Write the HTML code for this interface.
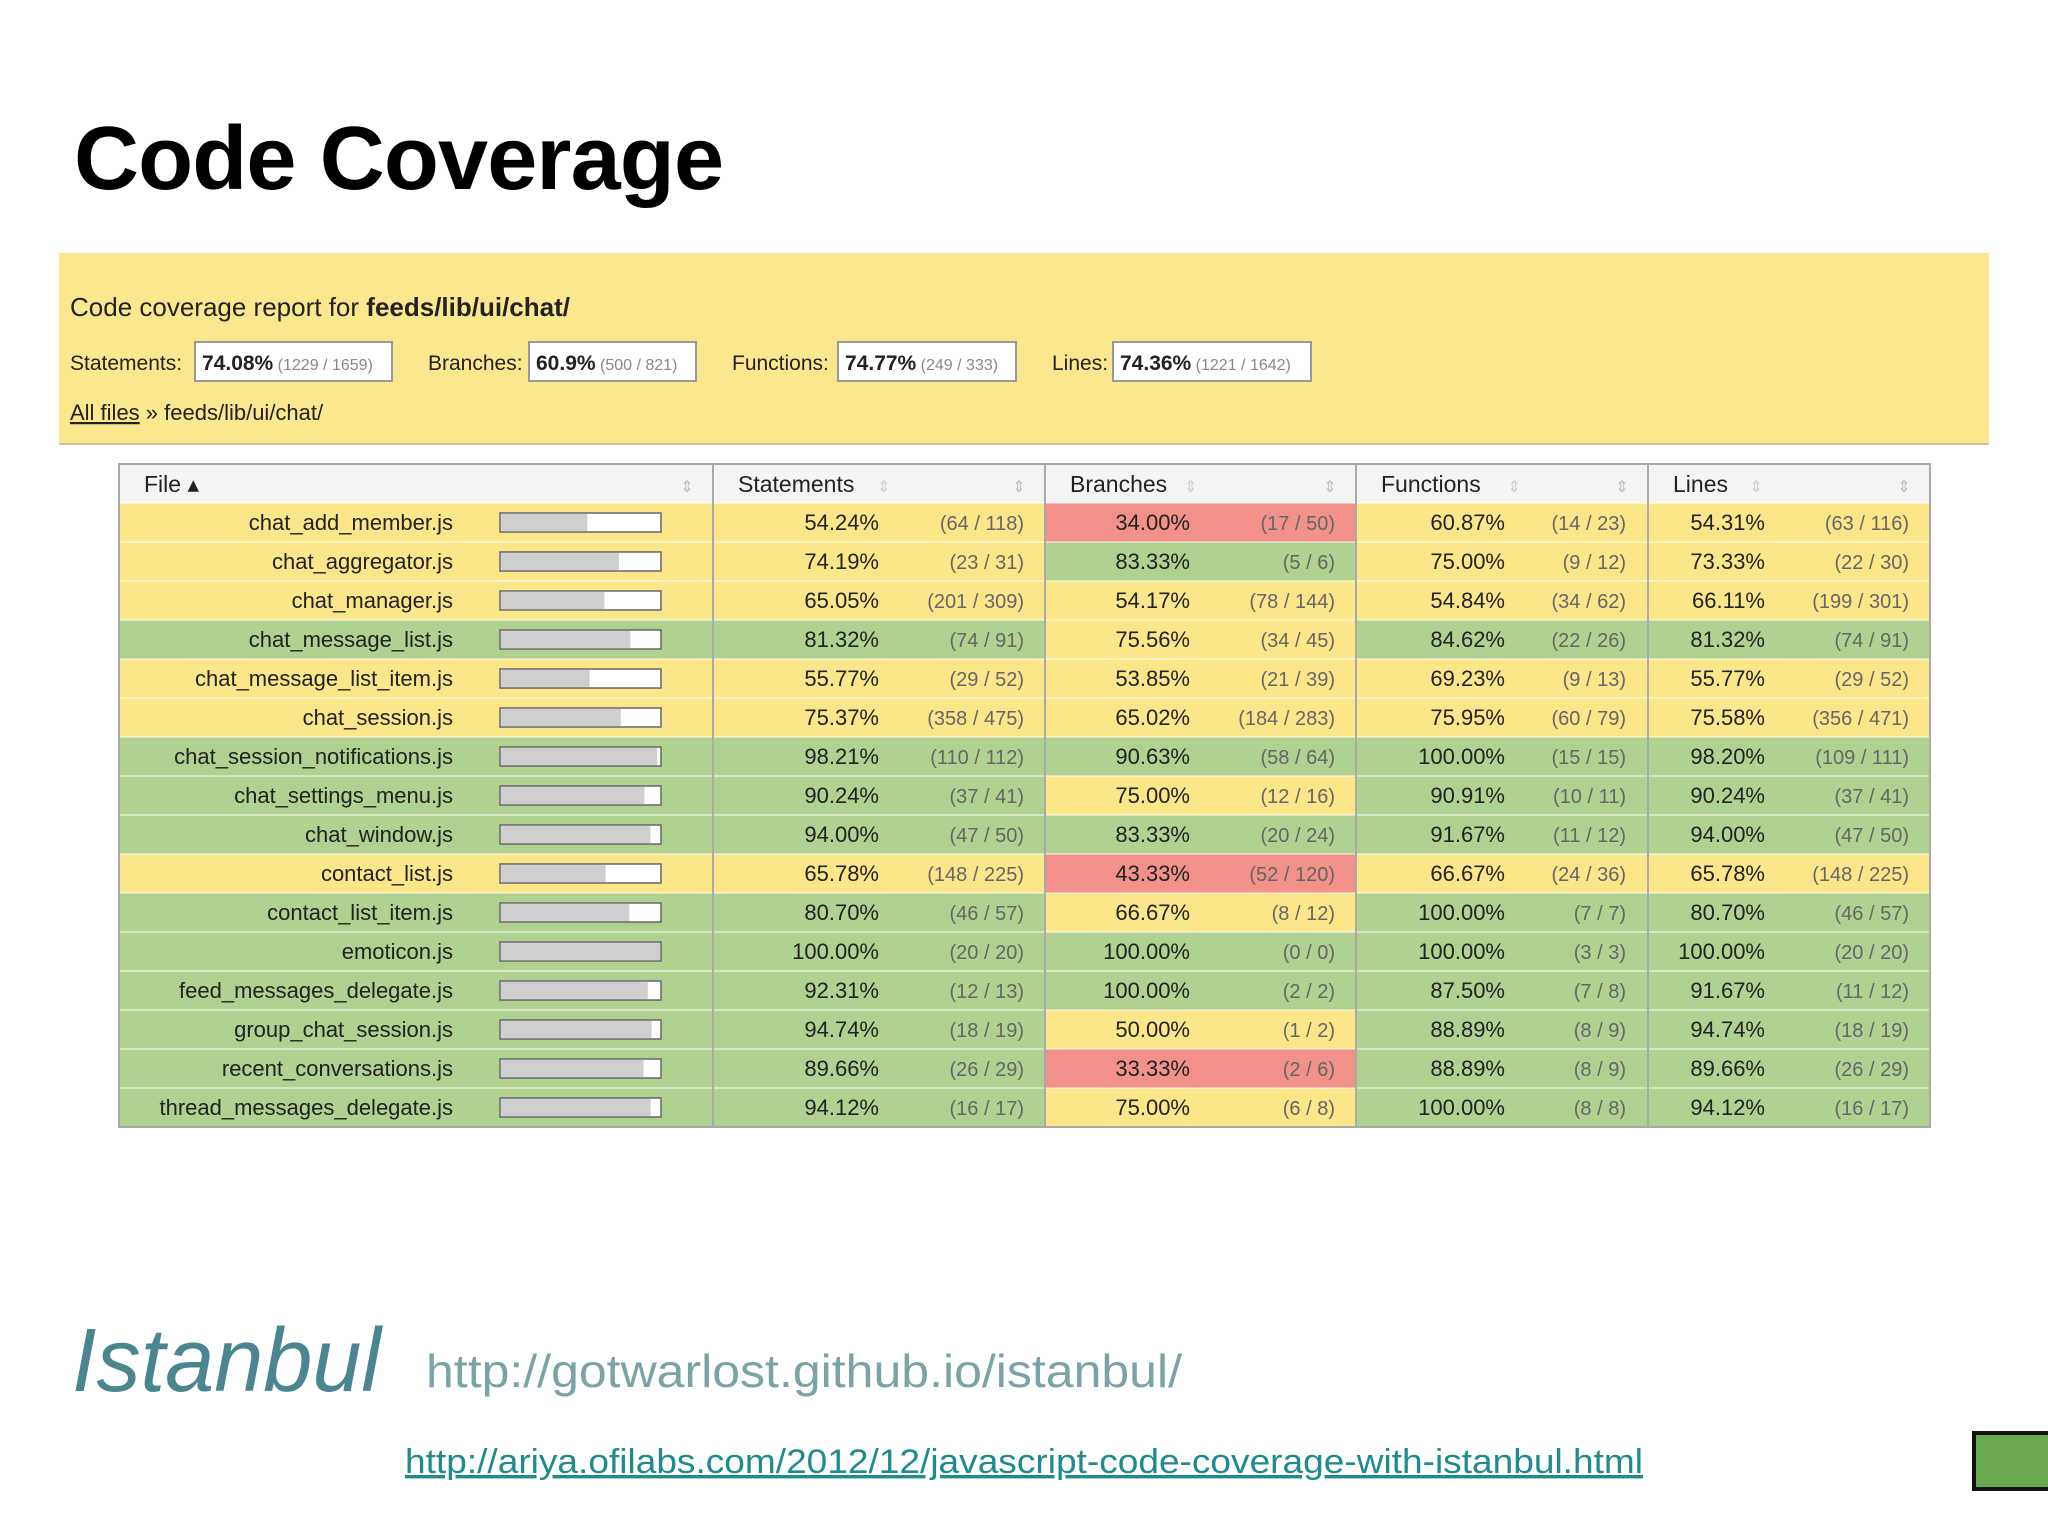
<!DOCTYPE html>
<html><head><meta charset="utf-8"><style>
html,body{margin:0;padding:0;background:#fff;}
svg{display:block;font-family:"Liberation Sans",sans-serif;}
</style></head><body>
<svg id="s" width="2048" height="1536" viewBox="0 0 2048 1536" xmlns="http://www.w3.org/2000/svg">
<text x="74" y="189" font-size="90" font-weight="bold" fill="#000" textLength="650">Code Coverage</text>
<rect x="59" y="253" width="1930" height="191" fill="#fbe88e"/>
<rect x="59" y="443" width="1930" height="2" fill="#c8c0a0"/>
<text x="70" y="316" font-size="26" fill="#222">Code coverage report for <tspan font-weight="bold">feeds/lib/ui/chat/</tspan></text>
<g font-size="21" fill="#222">
 <text x="70" y="370">Statements:</text>
 <rect x="195" y="342" width="197" height="39" fill="#fff" stroke="#999" stroke-width="2"/>
 <text x="202" y="370"><tspan font-weight="bold">74.08%</tspan><tspan font-size="16" fill="#888"> (1229 / 1659)</tspan></text>
 <text x="428" y="370">Branches:</text>
 <rect x="529" y="342" width="167" height="39" fill="#fff" stroke="#999" stroke-width="2"/>
 <text x="536" y="370"><tspan font-weight="bold">60.9%</tspan><tspan font-size="16" fill="#888"> (500 / 821)</tspan></text>
 <text x="732" y="370">Functions:</text>
 <rect x="838" y="342" width="178" height="39" fill="#fff" stroke="#999" stroke-width="2"/>
 <text x="845" y="370"><tspan font-weight="bold">74.77%</tspan><tspan font-size="16" fill="#888"> (249 / 333)</tspan></text>
 <text x="1052" y="370">Lines:</text>
 <rect x="1113" y="342" width="198" height="39" fill="#fff" stroke="#999" stroke-width="2"/>
 <text x="1120" y="370"><tspan font-weight="bold">74.36%</tspan><tspan font-size="16" fill="#888"> (1221 / 1642)</tspan></text>
</g>
<text x="70" y="420" font-size="22" fill="#222"><tspan text-decoration="underline">All files</tspan> » feeds/lib/ui/chat/</text>
<g id="tbl"></g>
<text x="72" y="1391" font-size="90" font-style="italic" fill="#4b8590" textLength="309" lengthAdjust="spacingAndGlyphs">Istanbul</text>
<text x="426" y="1387" font-size="46" fill="#7aa3a6" textLength="756" lengthAdjust="spacingAndGlyphs">http://gotwarlost.github.io/istanbul/</text>
<text x="405" y="1473" font-size="34" fill="#1f8b8b" text-decoration="underline" textLength="1238" lengthAdjust="spacingAndGlyphs">http://ariya.ofilabs.com/2012/12/javascript-code-coverage-with-istanbul.html</text>
<rect x="1974" y="1433" width="80" height="56" fill="#6aa84f" stroke="#111" stroke-width="4"/>
</svg>
<script>
const files=["chat_add_member.js","chat_aggregator.js","chat_manager.js","chat_message_list.js","chat_message_list_item.js","chat_session.js","chat_session_notifications.js","chat_settings_menu.js","chat_window.js","contact_list.js","contact_list_item.js","emoticon.js","feed_messages_delegate.js","group_chat_session.js","recent_conversations.js","thread_messages_delegate.js"];
const stmtPct=["54.24","74.19","65.05","81.32","55.77","75.37","98.21","90.24","94.00","65.78","80.70","100.00","92.31","94.74","89.66","94.12"];
const stmtFrac=["64 / 118","23 / 31","201 / 309","74 / 91","29 / 52","358 / 475","110 / 112","37 / 41","47 / 50","148 / 225","46 / 57","20 / 20","12 / 13","18 / 19","26 / 29","16 / 17"];
const brPct=["34.00","83.33","54.17","75.56","53.85","65.02","90.63","75.00","83.33","43.33","66.67","100.00","100.00","50.00","33.33","75.00"];
const brFrac=["17 / 50","5 / 6","78 / 144","34 / 45","21 / 39","184 / 283","58 / 64","12 / 16","20 / 24","52 / 120","8 / 12","0 / 0","2 / 2","1 / 2","2 / 6","6 / 8"];
const fnPct=["60.87","75.00","54.84","84.62","69.23","75.95","100.00","90.91","91.67","66.67","100.00","100.00","87.50","88.89","88.89","100.00"];
const fnFrac=["14 / 23","9 / 12","34 / 62","22 / 26","9 / 13","60 / 79","15 / 15","10 / 11","11 / 12","24 / 36","7 / 7","3 / 3","7 / 8","8 / 9","8 / 9","8 / 8"];
const lnPct=["54.31","73.33","66.11","81.32","55.77","75.58","98.20","90.24","94.00","65.78","80.70","100.00","91.67","94.74","89.66","94.12"];
const lnFrac=["63 / 116","22 / 30","199 / 301","74 / 91","29 / 52","356 / 471","109 / 111","37 / 41","47 / 50","148 / 225","46 / 57","20 / 20","11 / 12","18 / 19","26 / 29","16 / 17"];
const headers=["File","Statements","Branches","Functions","Lines"];

const NS="http://www.w3.org/2000/svg";
const g=document.getElementById('tbl');
function mk(t,a,txt){const e=document.createElementNS(NS,t);for(const k in a)e.setAttribute(k,a[k]);if(txt!=null)e.textContent=txt;g.appendChild(e);return e;}
const X0=119,X1=1930,HY=464,HH=39,RY=503,RH=39;
const cols=[X0,713,1045,1356,1648,X1];
function color(p){p=parseFloat(p);return p>=80?"#b0d190":(p>=50?"#fbe78a":"#f1918a");}
// header
let e=mk('rect',{x:X0,y:HY,width:X1-X0,height:HH,fill:'#f4f4f4'});


headers.forEach((h,i)=>{
 let t=mk('text',{x:cols[i]+25,y:HY+28,'font-size':23,fill:'#222'},h+(i==0?' \u25B4':''));
 
 
 let s=mk('text',{x:cols[i+1]-26,y:HY+28,'font-size':16,fill:'#bbb','text-anchor':'middle'},'\u21D5');
 
 
 if(i>0){let s2=mk('text',{x:cols[i]+25+h.length*12.5+14,y:HY+28,'font-size':16,fill:'#ccc'},'\u21D5');
 
 }
});
const groups=[[stmtPct,stmtFrac],[brPct,brFrac],[fnPct,fnFrac],[lnPct,lnFrac]];
const pctEnd=[879,1190,1505,1765],fracEnd=[1024,1335,1626,1909];
files.forEach((f,r)=>{
 const y=RY+r*RH;
 let c=mk('rect',{x:X0,y:y,width:cols[1]-X0,height:RH,fill:color(stmtPct[r])});
 
 
 let t=mk('text',{x:453,y:y+27,'font-size':22,fill:'#222','text-anchor':'end'},f);
 
 
 let b=mk('rect',{x:500,y:y+10,width:161,height:19,fill:'#fff',stroke:'#666','stroke-width':1.5});
 
 
 let bf=mk('rect',{x:501,y:y+11,width:159*parseFloat(stmtPct[r])/100,height:17,fill:'#cfcfcf'});
 
 
 groups.forEach((gr,k)=>{
  let cc=mk('rect',{x:cols[k+1],y:y,width:cols[k+2]-cols[k+1],height:RH,fill:color(gr[0][r])});
  
  
  let p=mk('text',{x:pctEnd[k],y:y+27,'font-size':22,fill:'#222','text-anchor':'end'},gr[0][r]+'%');
  
  
  let fr=mk('text',{x:fracEnd[k],y:y+27,'font-size':20,fill:'#666','text-anchor':'end'},'('+gr[1][r]+')');
  
  
 });
 let ln=mk('line',{x1:X0,x2:X1,y1:y,y2:y,stroke:'#fff','stroke-width':1.5,'stroke-opacity':0.6});
 
 
});
cols.forEach((x,i)=>{
 let l=mk('line',{x1:x,x2:x,y1:HY,y2:RY+files.length*RH,stroke:'#aaa','stroke-width':2});
 
 
});
let bd=mk('rect',{x:X0,y:HY,width:X1-X0,height:HH+files.length*RH,fill:'none',stroke:'#aaa','stroke-width':2});


</script>
</body></html>
